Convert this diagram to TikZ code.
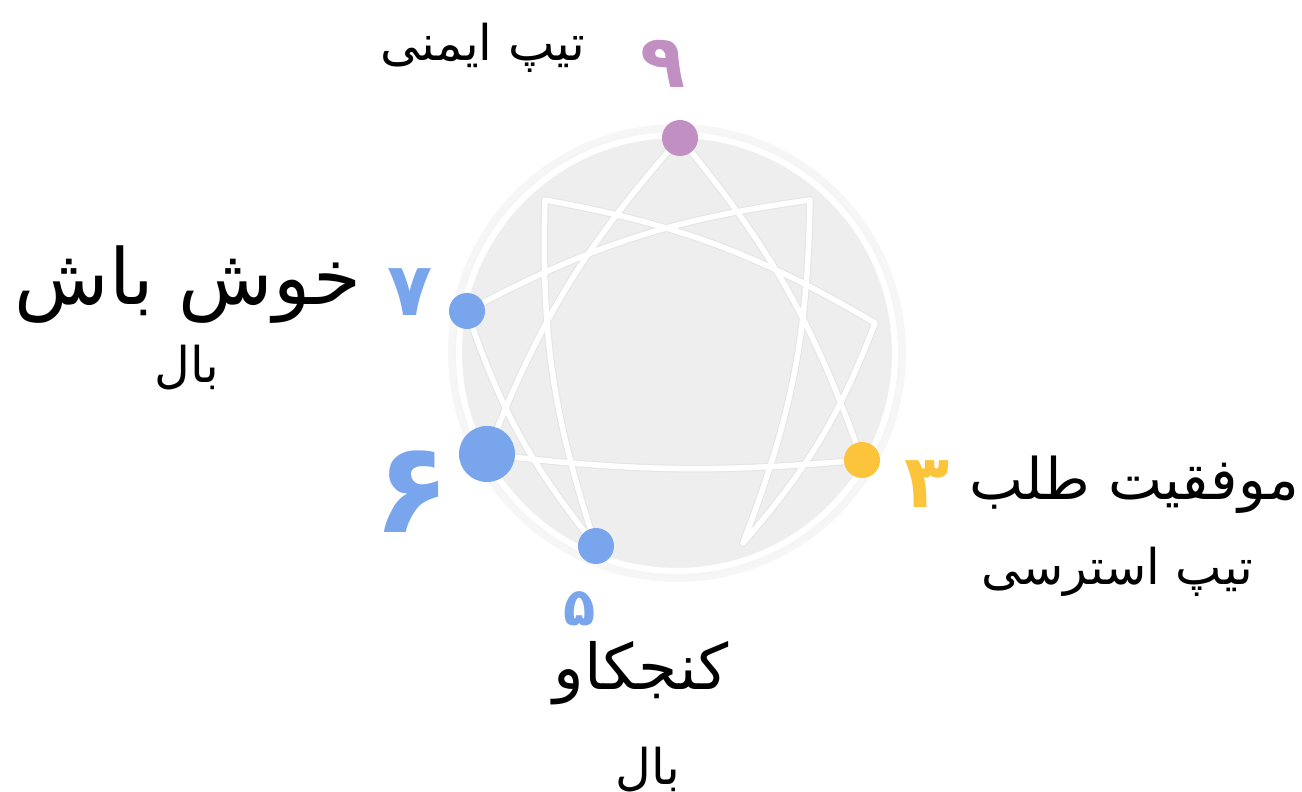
\documentclass[tikz,border=0pt]{standalone}
\usepackage{fontspec}
\newfontfamily\arabicfont[Script=Arabic]{DejaVu Sans}
\TeXXeTstate=1
\definecolor{ninec}{HTML}{C18FC2}
\definecolor{bluec}{HTML}{78A5EB}
\definecolor{yelc}{HTML}{FBC43B}
\definecolor{discc}{HTML}{EEEEEE}
\definecolor{haloc}{HTML}{F6F6F6}
\definecolor{shadc}{HTML}{E4E4E4}
\begin{document}
\begin{tikzpicture}[x=0.01cm,y=-0.01cm,
  pt/.style={circle,fill,inner sep=0pt,minimum size=0.36cm},
  bigpt/.style={circle,fill,inner sep=0pt,minimum size=0.56cm},
  shade line/.style={draw=shadc,line width=0.075cm,line cap=round,line join=round},
  white line/.style={draw=white,line width=0.055cm,line cap=round,line join=round},
  lab/.style={inner sep=0pt,text=black,font=\arabicfont\fontsize{14}{16}\selectfont},
  hand/.style={inner sep=0pt,text=black},
  digit/.style={inner sep=0pt,font=\arabicfont\bfseries\fontsize{21}{24}\selectfont},
  bo/.style={bend left=10},
  bi/.style={bend right=10}]
\useasboundingbox (0,0) rectangle (1302,792);
% disc
\coordinate (c) at (677,353);
\fill[haloc] (c) circle (229);
\draw[discc!60!white,line width=0.04cm,fill=discc] (c) circle (221);
\draw[white,line width=0.06cm] (c) circle (218);
% corner coordinates of hexad
\coordinate (p1) at (810,200);
\coordinate (p2) at (875,323);
\coordinate (p4) at (743,543);
\coordinate (p8) at (545,200);
\coordinate (q9) at (680,138);
\coordinate (q7) at (467,311);
\coordinate (q6) at (487,454);
\coordinate (q5) at (596,546);
\coordinate (q3) at (862,460);
% lines: shadow then white
\foreach \sty in {shade line, white line}{
  \path[\sty] (p1) to[bo] (p4) to[bi] (p2) to[bi] (p8) to[bi] (q5) to[bo] (q7) to[bo] (p1);
  \path[\sty] (q9) to[bo] (q3) to[bend left=6] (q6) to[bo] (q9);
}
% dots
\node[pt,fill=ninec] (d9) at (q9) {};
\node[pt,fill=bluec] (d7) at (q7) {};
\node[bigpt,fill=bluec] (d6) at (q6) {};
\node[pt,fill=bluec] (d5) at (q5) {};
\node[pt,fill=yelc] (d3) at (q3) {};
% digits
\node[digit,text=ninec] (n9) at (663,64) {\beginR ۹\endR};
\node[digit,text=bluec] (n7) at (410,292) {\beginR ۷\endR};
\node[digit,text=bluec,font=\arabicfont\bfseries\fontsize{36}{40}\selectfont] (n6) at (412,492) {\beginR ۶\endR};
\node[digit,text=bluec,font=\arabicfont\bfseries\fontsize{15}{18}\selectfont] (n5) at (580,609) {\beginR ۵\endR};
\node[digit,text=yelc] (n3) at (927,484) {\beginR ۳\endR};
% labels
\node[lab] (t9) at (483,48) {\beginR تیپ ایمنی\endR};
\node[hand,font=\arabicfont\fontsize{22}{26}\selectfont] (t7) at (188,285) {\beginR خوش باش\endR};
\node[lab] (w7) at (187,368) {\beginR بال\endR};
\node[hand,font=\arabicfont\fontsize{16.3}{20}\selectfont] (t3) at (1134,485) {\beginR موفقیت طلب\endR};
\node[lab] (w3) at (1117,572) {\beginR تیپ استرسی\endR};
\node[hand,font=\arabicfont\fontsize{18}{22}\selectfont] (t5) at (641,673) {\beginR کنجکاو\endR};
\node[lab] (w5) at (648,770) {\beginR بال\endR};
\end{tikzpicture}
\end{document}
